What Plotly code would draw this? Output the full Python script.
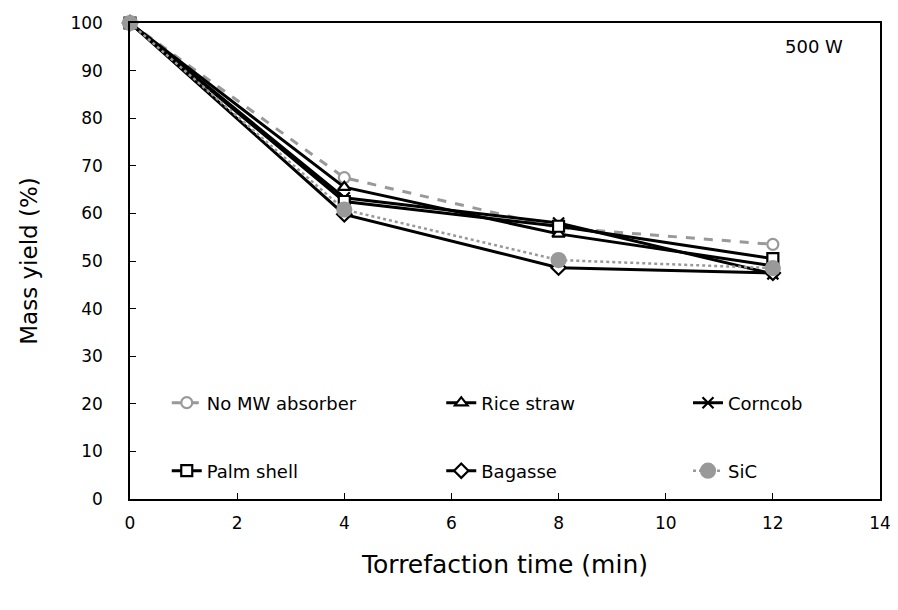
import plotly.graph_objects as go

time_min = [0, 4, 8, 12]
no_mw = [100, 67.5, 57.0, 53.5]
rice_straw = [100, 65.5, 55.7, 49.0]
corncob = [100, 63.3, 58.0, 47.3]
palm_shell = [100, 62.5, 57.3, 50.5]
bagasse = [100, 59.8, 48.6, 47.5]
sic = [100, 60.8, 50.2, 48.5]

FONT = "DejaVu Sans"
fig = go.Figure()

def add(name, y, color, dash, symbol, mfill, mline, legend, width=3, size=11):
    fig.add_trace(go.Scatter(
        x=time_min, y=y, name=name, mode="lines+markers",
        line=dict(color=color, width=width, dash=dash),
        marker=dict(symbol=symbol, size=size, color=mfill,
                    line=dict(color=mline, width=2.2)),
        legend=legend, cliponaxis=False))

add("No MW absorber", no_mw, "#999999", "dash", "circle", "white", "#999999", "legend")
add("Rice straw", rice_straw, "black", "solid", "triangle-up", "white", "black", "legend2")
add("Corncob", corncob, "black", "solid", "x-thin", "black", "black", "legend3")
add("Palm shell", palm_shell, "black", "solid", "square", "white", "black", "legend4")
add("Bagasse", bagasse, "black", "solid", "diamond", "white", "black", "legend5")
add("SiC", sic, "#999999", "dot", "circle", "#999999", "#999999", "legend6", width=2.5, size=14)

axis_common = dict(showline=True, linecolor="black", linewidth=1.5, mirror=True,
                   ticks="inside", ticklen=6, tickcolor="black", showgrid=False,
                   zeroline=False, automargin=False,
                   tickfont=dict(family=FONT, size=17, color="black"))

fig.update_xaxes(range=[0, 14], tickvals=list(range(0, 15, 2)), ticklabelstandoff=8,
                 title=dict(text="Torrefaction time (min)", font=dict(family=FONT, size=25, color="black"), standoff=23),
                 **axis_common)
fig.update_yaxes(range=[0, 100], tickvals=list(range(0, 101, 10)), ticklabelstandoff=22,
                 title=dict(text="Mass yield (%)", font=dict(family=FONT, size=23, color="black"), standoff=26),
                 **axis_common)

leg_common = dict(orientation="h", bgcolor="rgba(0,0,0,0)",
                  font=dict(family=FONT, size=18, color="black"),
                  xanchor="left", yanchor="middle", itemwidth=30)
cols = [0.049, 0.415, 0.744]
rows = [0.2017, 0.0588]
fig.update_layout(
    legend=dict(x=cols[0], y=rows[0], **leg_common),
    legend2=dict(x=cols[1], y=rows[0], **leg_common),
    legend3=dict(x=cols[2], y=rows[0], **leg_common),
    legend4=dict(x=cols[0], y=rows[1], **leg_common),
    legend5=dict(x=cols[1], y=rows[1], **leg_common),
    legend6=dict(x=cols[2], y=rows[1], **leg_common),
)

fig.add_annotation(x=0.953, y=0.95, xref="paper", yref="paper", xanchor="right", yanchor="middle",
                   text="500 W", showarrow=False, font=dict(family=FONT, size=18, color="black"))

fig.update_layout(width=890, height=602, plot_bgcolor="white", paper_bgcolor="white",
                  margin=dict(l=122, r=18, t=15, b=111, autoexpand=False), showlegend=True)

fig.write_html("out.html")
